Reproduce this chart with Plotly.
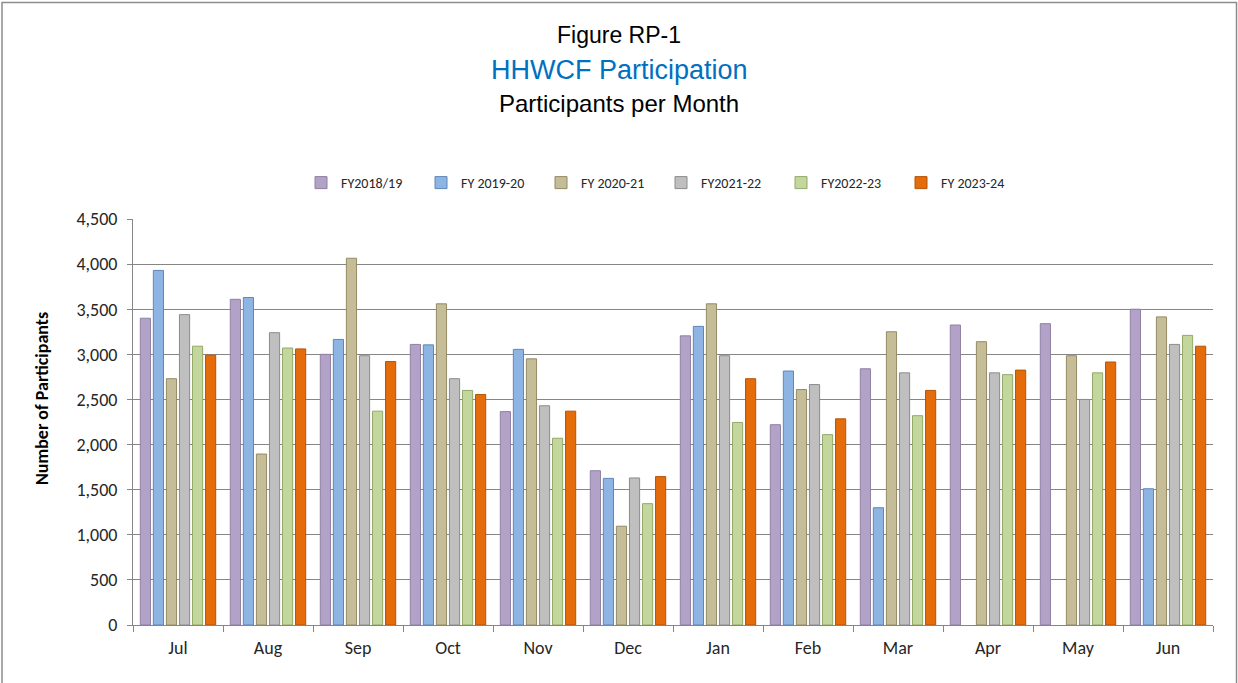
import plotly.graph_objects as go

months = ["Jul", "Aug", "Sep", "Oct", "Nov", "Dec", "Jan", "Feb", "Mar", "Apr", "May", "Jun"]
series_names = ["FY2018/19", "FY 2019-20", "FY 2020-21", "FY2021-22", "FY2022-23", "FY 2023-24"]

fy2018_19 = [3400, 3610, 3000, 3110, 2365, 1710, 3205, 2220, 2840, 3325, 3340, 3500]
fy2019_20 = [3930, 3630, 3165, 3105, 3055, 1625, 3310, 2815, 1300, None, None, 1510]
fy2020_21 = [2730, 1895, 4065, 3560, 2950, 1095, 3560, 2610, 3250, 3140, 2985, 3415]
fy2021_22 = [3440, 3240, 2985, 2730, 2430, 1630, 2985, 2665, 2795, 2795, 2500, 3110]
fy2022_23 = [3090, 3070, 2370, 2600, 2070, 1345, 2245, 2110, 2320, 2775, 2795, 3210]
fy2023_24 = [2990, 3060, 2920, 2555, 2370, 1645, 2730, 2285, 2600, 2825, 2915, 3090]

all_series = [fy2018_19, fy2019_20, fy2020_21, fy2021_22, fy2022_23, fy2023_24]
fill_colors = ["#B3A2C7", "#8EB4E3", "#C4BD97", "#BFBFBF", "#C3D69B", "#E46C0A"]
line_colors = ["#8F80A3", "#5F87B8", "#948A64", "#8C8C8C", "#93A96A", "#B5540A"]

fig = go.Figure()
for name, vals, fc, lc in zip(series_names, all_series, fill_colors, line_colors):
    fig.add_trace(go.Bar(
        name=name, x=months, y=vals,
        marker=dict(color=fc, line=dict(color=lc, width=1)),
    ))

body_font = "Carlito, Lato, Liberation Sans"
tick_font = dict(family=body_font, size=18, color="#262626")
title_font = "Liberation Sans Narrow, Arial Narrow, Liberation Sans, Arial"

# plot area target: x 133..1213, y 219..625 in the window
W, H = 1238, 683
L, T = 133, 219
PW, PH = 1080, 406

def px(x):
    return (x - L) / PW

def py(y):
    return (T + PH - y) / PH

fig.update_layout(
    width=W, height=H,
    paper_bgcolor="white", plot_bgcolor="white",
    margin=dict(l=L, r=W - L - PW, t=T, b=H - T - PH, autoexpand=False),
    barmode="group", bargap=0.13, bargroupgap=0.22,
    showlegend=True,
    legend=dict(orientation="h", x=px(301), xanchor="left", y=py(183), yanchor="middle",
                font=dict(family=body_font, size=14, color="#262626"),
                itemwidth=30, entrywidth=75, traceorder="normal"),
    xaxis=dict(showline=True, linecolor="#868686", linewidth=1, ticks="outside",
               tickson="boundaries", ticklen=6, tickcolor="#868686",
               tickfont=tick_font, showgrid=False, ticklabelstandoff=6),
    yaxis=dict(range=[0, 4500], dtick=500, tickformat=",", showline=True,
               linecolor="#868686", linewidth=1, ticks="outside", ticklen=5,
               tickcolor="#868686", gridcolor="#868686", gridwidth=1,
               tickfont=tick_font, ticklabelstandoff=6),
    annotations=[
        dict(text="Figure RP-1", xref="paper", yref="paper", x=px(619), y=py(35),
             xanchor="center", yanchor="middle",
             showarrow=False, font=dict(family=title_font, size=23, color="black")),
        dict(text="HHWCF Participation", xref="paper", yref="paper", x=px(619), y=py(70),
             xanchor="center", yanchor="middle",
             showarrow=False, font=dict(family=title_font, size=27, color="#0070C0")),
        dict(text="Participants per Month", xref="paper", yref="paper", x=px(619), y=py(104),
             xanchor="center", yanchor="middle",
             showarrow=False, font=dict(family=title_font, size=24, color="black")),
        dict(text="<b>Number of Participants</b>", xref="paper", yref="paper",
             x=px(42), y=py(399), xanchor="center", yanchor="middle", textangle=-90,
             showarrow=False, font=dict(family=body_font, size=18, color="black")),
    ],
    shapes=[
        dict(type="rect", xref="paper", yref="paper",
             x0=px(2), x1=px(1236.5), y0=py(700), y1=py(2.5),
             line=dict(color="#8C8C8C", width=1.5), fillcolor="rgba(0,0,0,0)", layer="below"),
    ],
)

fig.write_html(
    "out.html",
    config={"displayModeBar": False},
    post_script="document.body.style.margin='0';document.body.style.overflow='hidden';",
)
